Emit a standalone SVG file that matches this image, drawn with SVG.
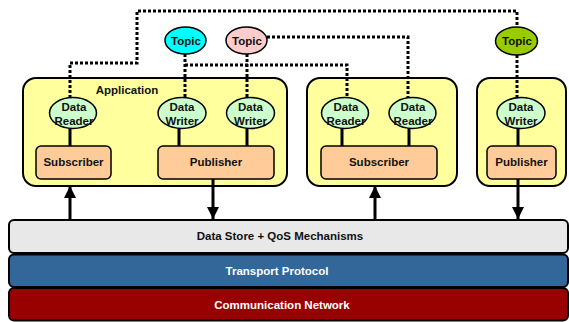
<svg xmlns="http://www.w3.org/2000/svg" width="569" height="322" viewBox="0 0 569 322">
<defs>
<marker id="ah" markerUnits="userSpaceOnUse" markerWidth="12" markerHeight="14" viewBox="0 0 12 14" refX="12" refY="7" orient="auto">
<path d="M0,1 L12,7 L0,13 Z" fill="#000"/>
</marker>
<style>
text{font-family:"Liberation Sans",Arial,sans-serif;font-weight:bold;font-size:11.5px;text-anchor:middle;fill:#111}
.app{fill:#FFFF9E;stroke:#000;stroke-width:2}
.ep{fill:#CCFFCC;stroke:#000;stroke-width:1.5}
.box{fill:#FFCC99;stroke:#000;stroke-width:1.5}
.topic{stroke:#000;stroke-width:1.5}
.dot{fill:none;stroke:#000;stroke-width:3;stroke-dasharray:3 2}
.solid{fill:none;stroke:#000;stroke-width:3}
.layer{stroke:#000;stroke-width:2}
.w{fill:#fff}
</style>
</defs>
<g id="app1">
<rect class="app" x="23" y="78" width="264" height="108" rx="13"/>
<text x="127" y="94">Application</text>
</g>
<g id="app2"><rect class="app" x="307" y="78" width="150" height="108" rx="13"/></g>
<g id="app3"><rect class="app" x="477" y="78" width="89" height="108" rx="13"/></g>
<g id="connectors">
<path class="dot" d="M70,98 V63 H137 V11 H517 V27"/>
<path class="dot" d="M185,54 V98 M185,65 H347 V98"/>
<path class="dot" d="M247,54 V98 M267,37 H408 V98"/>
<path class="dot" d="M517,55 V98"/>
<path class="solid" d="M70,128 V146 M179,128 V146 M247,128 V146 M342,128 V146 M409,128 V146 M518,128 V146"/>
<path class="solid" d="M70,220 V186" marker-end="url(#ah)"/>
<path class="solid" d="M213,179 V219" marker-end="url(#ah)"/>
<path class="solid" d="M375,220 V186" marker-end="url(#ah)"/>
<path class="solid" d="M518,179 V219" marker-end="url(#ah)"/>
</g>
<g id="reader1"><ellipse class="ep" cx="73" cy="113" rx="23.5" ry="15.5"/><text x="74" y="111">Data</text><text x="74" y="125">Reader</text></g>
<g id="writer1"><ellipse class="ep" cx="182" cy="113" rx="24" ry="15.5"/><text x="182" y="111">Data</text><text x="182" y="125">Writer</text></g>
<g id="writer2"><ellipse class="ep" cx="250.5" cy="113" rx="24" ry="15.5"/><text x="250.5" y="111">Data</text><text x="250.5" y="125">Writer</text></g>
<g id="reader2"><ellipse class="ep" cx="345" cy="113" rx="23.5" ry="15.5"/><text x="346" y="111">Data</text><text x="346" y="125">Reader</text></g>
<g id="reader3"><ellipse class="ep" cx="412.5" cy="113" rx="23.5" ry="15.5"/><text x="413" y="111">Data</text><text x="413" y="125">Reader</text></g>
<g id="writer3"><ellipse class="ep" cx="521" cy="113" rx="24" ry="15.5"/><text x="521" y="111">Data</text><text x="521" y="125">Writer</text></g>
<g id="subscriber1"><rect class="box" x="36" y="146" width="75" height="33" rx="5"/><text x="73.5" y="166">Subscriber</text></g>
<g id="publisher1"><rect class="box" x="158" y="146" width="116" height="33" rx="5"/><text x="216" y="166">Publisher</text></g>
<g id="subscriber2"><rect class="box" x="321" y="146" width="116" height="33" rx="5"/><text x="379" y="166">Subscriber</text></g>
<g id="publisher3"><rect class="box" x="487" y="146" width="69" height="33" rx="5"/><text x="521.5" y="166">Publisher</text></g>
<g id="topic1"><ellipse class="topic" cx="185.5" cy="40.5" rx="20.5" ry="13.5" fill="#00FFFF"/><text x="186" y="45">Topic</text></g>
<g id="topic2"><ellipse class="topic" cx="246.5" cy="40.5" rx="20.5" ry="13.5" fill="#FFCCCC"/><text x="247" y="45">Topic</text></g>
<g id="topic3"><ellipse class="topic" cx="516.5" cy="41" rx="21" ry="14" fill="#99CC00"/><text x="517" y="45">Topic</text></g>
<g id="datastore"><rect class="layer" x="9" y="220" width="559" height="33" rx="5" fill="#E8E8E8"/><text x="280" y="240">Data Store + QoS Mechanisms</text></g>
<g id="transport"><rect class="layer" x="9" y="254.5" width="559" height="32.5" rx="5" fill="#336699"/><text class="w" x="277" y="275">Transport Protocol</text></g>
<g id="network"><rect class="layer" x="9" y="288" width="559" height="32.5" rx="5" fill="#990000"/><text class="w" x="282" y="309">Communication Network</text></g>
</svg>
